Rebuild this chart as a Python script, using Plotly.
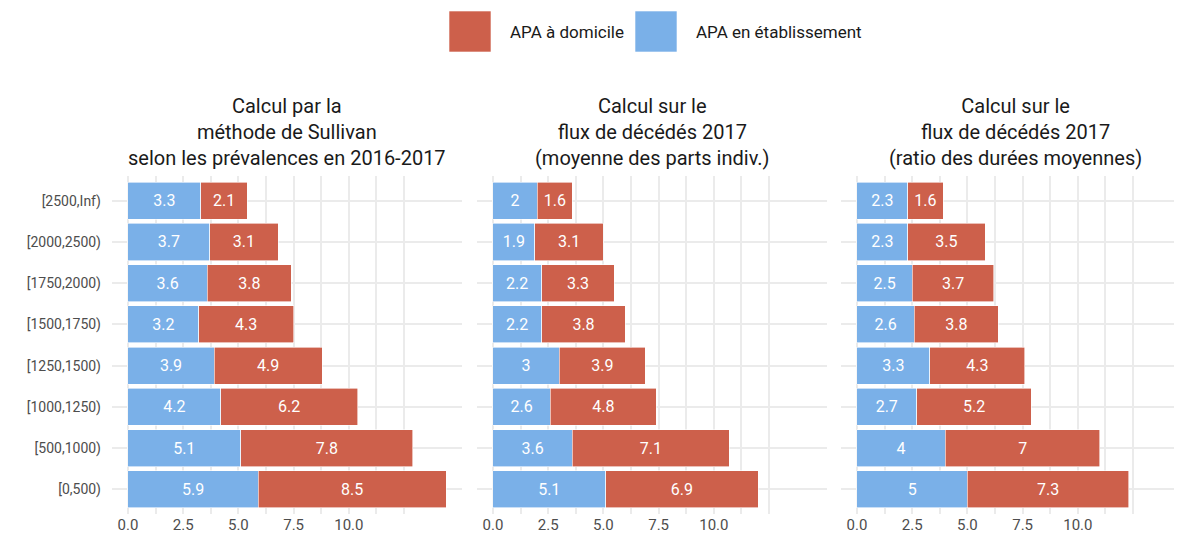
import plotly.graph_objects as go

# tranches de revenus, du bas vers le haut
categories = ['[0,500)', '[500,1000)', '[1000,1250)', '[1250,1500)',
              '[1500,1750)', '[1750,2000)', '[2000,2500)', '[2500,Inf)']

panel_titles = [
    'Calcul par la<br>méthode de Sullivan<br>selon les prévalences en 2016-2017',
    'Calcul sur le<br>flux de décédés 2017<br>(moyenne des parts indiv.)',
    'Calcul sur le<br>flux de décédés 2017<br>(ratio des durées moyennes)',
]

etab_sullivan = [5.9, 5.1, 4.2, 3.9, 3.2, 3.6, 3.7, 3.3]
dom_sullivan = [8.5, 7.8, 6.2, 4.9, 4.3, 3.8, 3.1, 2.1]

etab_flux_moy = [5.1, 3.6, 2.6, 3, 2.2, 2.2, 1.9, 2]
dom_flux_moy = [6.9, 7.1, 4.8, 3.9, 3.8, 3.3, 3.1, 1.6]

etab_flux_ratio = [5, 4, 2.7, 3.3, 2.6, 2.5, 2.3, 2.3]
dom_flux_ratio = [7.3, 7, 5.2, 4.3, 3.8, 3.7, 3.5, 1.6]

x_tickvals = [0, 2.5, 5, 7.5, 10, 12.5]
x_ticktext = ['0.0', '2.5', '5.0', '7.5', '10.0', '']
x_minorvals = [1.25, 3.75, 6.25, 8.75, 11.25]

series_names = ['APA en établissement', 'APA à domicile']
colormap = {'APA à domicile': '#CD604B', 'APA en établissement': '#7AB0E8'}

FONT = 'Roboto, Arial, sans-serif'
W, H = 1182, 549
GRID = '#EBEBEB'
OFF = 8  # page body margin

panels = [
    (etab_sullivan, dom_sullivan),
    (etab_flux_moy, dom_flux_moy),
    (etab_flux_ratio, dom_flux_ratio),
]

# panel positions in screen pixels (left, right); the last one runs past the edge
panel_px = [(112, 462), (477, 827), (841, 1190)]
unit_px = 350 / 15.84


def px(x):
    return (x - OFF) / W


def py(y):
    return (H - (y - OFF)) / H


def fmt(v):
    return f'{v:g}'


y_dom = [py(514), py(176)]

fig = go.Figure()
for i, (etab, dom) in enumerate(panels):
    suffix = '' if i == 0 else str(i + 1)
    for name, vals in zip(series_names, (etab, dom)):
        fig.add_trace(go.Bar(
            x=vals, y=categories, orientation='h', name=name,
            marker=dict(color=colormap[name], line=dict(color='white', width=0.6)),
            width=0.9,
            text=[fmt(v) for v in vals], textposition='inside',
            insidetextanchor='middle', textangle=0,
            textfont=dict(color='white', size=16, family=FONT),
            xaxis='x' + suffix, yaxis='y' + suffix, showlegend=False,
        ))

    left, right = panel_px[i]
    xmin = -0.72
    xmax = xmin + (right - left) / unit_px
    fig.layout['xaxis' + suffix] = dict(
        domain=[px(left), px(right)], range=[xmin, xmax], anchor='y' + suffix,
        tickmode='array', tickvals=x_tickvals, ticktext=x_ticktext,
        showgrid=True, gridcolor=GRID, gridwidth=1.5, zeroline=False,
        minor=dict(tickmode='array', tickvals=x_minorvals, showgrid=True,
                   gridcolor=GRID, gridwidth=1.5),
        tickfont=dict(size=15, color='#4D4D4D', family=FONT), ticks='',
        automargin=False,
    )
    fig.layout['yaxis' + suffix] = dict(
        domain=y_dom, range=[-0.6, 7.6], anchor='x' + suffix,
        type='category', categoryorder='array', categoryarray=categories,
        showgrid=True, gridcolor=GRID, gridwidth=1.5, zeroline=False,
        showticklabels=(i == 0), ticks='', ticklabelstandoff=10,
        tickfont=dict(size=14, color='#4D4D4D', family=FONT),
        automargin=False,
    )

    # facet title
    fig.add_annotation(
        text=panel_titles[i], xref='paper', yref='paper',
        x=px((left + right) / 2), y=py(172),
        xanchor='center', yanchor='bottom', showarrow=False,
        font=dict(size=20, color='#1A1A1A', family=FONT), align='center',
    )

# legend drawn by hand to get the big ggplot keys
legend_items = [('APA à domicile', 449, 508), ('APA en établissement', 635, 694)]
for name, sx, tx in legend_items:
    fig.add_shape(type='rect', xref='paper', yref='paper',
                  x0=px(sx), x1=px(sx + 42), y0=py(52), y1=py(11),
                  fillcolor=colormap[name], line=dict(color='white', width=0.6))
    fig.add_annotation(text=name, xref='paper', yref='paper',
                       x=px(tx), y=py(32), xanchor='left', yanchor='middle',
                       showarrow=False, font=dict(size=17, color='#1A1A1A', family=FONT))

fig.update_layout(
    barmode='stack', width=W, height=H,
    margin=dict(l=0, r=0, t=0, b=0),
    plot_bgcolor='white', paper_bgcolor='white',
    font=dict(family=FONT),
    uniformtext=dict(mode=False),
)

fig.write_html('out.html')
